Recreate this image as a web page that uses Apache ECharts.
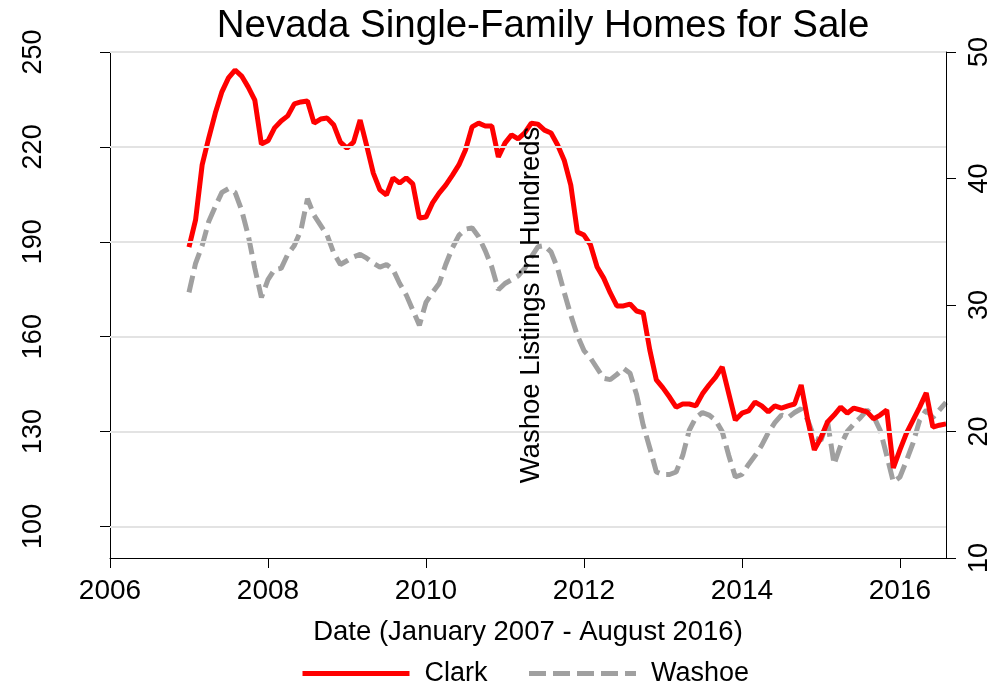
<!DOCTYPE html>
<html>
<head>
<meta charset="utf-8">
<title>Nevada Single-Family Homes for Sale</title>
<script src="https://cdn.jsdelivr.net/npm/echarts@6.0.0/dist/echarts.min.js"></script>
<style>
  html, body { margin: 0; padding: 0; background: #fff; }
  #chart { width: 1003px; height: 688px; }
</style>
</head>
<body>
<div id="chart"></div>
<script>
// monthly series, January 2007 - August 2016, one row per year
var startYear = 2007;
var clark = [
  188.3, 196.9, 214.3, 222.8, 230.7, 237.4, 241.8, 244.3, 242.4, 238.9, 234.8, 220.9,
  221.9, 226.0, 228.2, 229.8, 233.6, 234.2, 234.5, 227.5, 228.8, 229.1, 226.9, 221.5,
  219.6, 221.5, 228.5, 220.3, 211.7, 206.4, 204.8, 210.2, 208.6, 210.2, 208.3, 197.5,
  197.8, 202.3, 205.4, 207.9, 211.0, 214.3, 219.0, 226.3, 227.5, 226.6, 226.6, 216.8,
  221.2, 223.8, 222.5, 224.4, 227.5, 227.2, 225.3, 224.4, 220.6, 215.8, 207.9, 193.1,
  192.1, 189.0, 182.0, 178.5, 173.8, 169.7, 169.7, 170.3, 168.1, 167.5, 155.8, 146.3,
  143.8, 140.9, 137.7, 138.7, 138.7, 138.1, 141.9, 144.7, 147.2, 150.4, 142.0, 133.6,
  135.8, 136.5, 139.3, 138.1, 136.2, 138.1, 137.4, 138.1, 138.7, 144.7, 133.6, 124.2,
  128.0, 133.0, 135.2, 137.7, 135.8, 137.4, 136.8, 136.2, 134.0, 135.2, 136.8, 118.5,
  124.2, 129.5, 133.6, 137.7, 142.2, 131.4, 132.0, 132.4
];
// Washoe, listings in hundreds (right axis)
var washoe = [
  31.0, 33.3, 34.7, 36.6, 37.8, 38.9, 39.2, 38.9, 37.5, 35.5, 32.9, 30.6,
  32.0, 32.8, 32.9, 34.0, 34.7, 35.9, 38.4, 37.1, 36.3, 35.5, 34.1, 33.2,
  33.5, 33.8, 34.0, 33.7, 33.3, 33.0, 33.2, 32.8, 31.7, 30.8, 29.6, 28.4,
  30.2, 31.0, 31.7, 33.2, 34.5, 35.5, 36.0, 36.1, 35.4, 34.3, 33.0, 31.2,
  31.7, 32.0, 32.3, 32.9, 33.8, 34.6, 34.7, 34.2, 32.9, 31.0, 29.2, 27.6,
  26.4, 25.8, 25.0, 24.2, 24.1, 24.5, 25.0, 24.6, 22.9, 20.5, 18.7, 16.8,
  16.6, 16.6, 16.8, 18.1, 20.1, 21.1, 21.5, 21.3, 20.9, 20.0, 18.1, 16.4,
  16.6, 17.4, 18.1, 18.9, 19.9, 20.7, 21.3, 21.1, 21.5, 21.8, 20.9, 19.5,
  19.3, 20.8, 17.4, 18.9, 20.0, 20.6, 21.1, 21.7, 21.2, 20.1, 18.1, 16.0,
  16.4, 17.7, 19.1, 20.9, 21.7, 21.1, 21.7, 22.3
];
var xTicks = [2006, 2008, 2010, 2012, 2014, 2016];
var leftTicks = [100, 130, 160, 190, 220, 250];

var FONT = 'Liberation Sans, Arial, Helvetica, sans-serif';

function toPairs(values) {
  return values.map(function (v, i) { return [startYear + i / 12, v]; });
}

var chart = echarts.init(document.getElementById('chart'), null, { renderer: 'canvas' });

var option = {
  animation: false,
  backgroundColor: '#ffffff',
  textStyle: { fontFamily: FONT, color: '#000' },
  title: {
    text: 'Nevada Single-Family Homes for Sale',
    left: 538,
    textAlign: 'center',
    top: 2,
    textStyle: { fontFamily: FONT, fontSize: 38.5, fontWeight: 'normal', color: '#000' }
  },
  legend: {
    data: ['Clark', 'Washoe'],
    left: 295,
    top: 655,
    itemWidth: 107,
    itemHeight: 14,
    itemGap: 39,
    lineStyle: { width: 5 },
    // hide the default circle marker, keep only the line
    itemStyle: { opacity: 0, borderWidth: 0 },
    textStyle: { fontFamily: FONT, fontSize: 27, color: '#000', padding: [0, 0, 0, 10] }
  },
  grid: { left: 110, right: 57, top: 52, bottom: 130 },
  xAxis: {
    type: 'value',
    min: 2006,
    max: 2016 + 7 / 12,
    interval: 2,
    name: 'Date (January 2007 - August 2016)',
    nameLocation: 'middle',
    nameGap: 60,
    nameTextStyle: { fontFamily: FONT, fontSize: 27.5, color: '#000' },
    axisLine: { show: true, onZero: false, lineStyle: { color: '#000', width: 1 } },
    axisTick: { show: true, length: 10, customValues: xTicks, lineStyle: { color: '#000' } },
    axisLabel: {
      customValues: xTicks,
      formatter: function (v) { return String(v); },
      fontFamily: FONT, fontSize: 28, color: '#000', margin: 19
    },
    splitLine: { show: false }
  },
  yAxis: [
    {
      type: 'value',
      min: 90,
      max: 250,
      position: 'left',
      axisLine: { show: true, lineStyle: { color: '#000', width: 1 } },
      axisTick: { show: true, length: 10, customValues: leftTicks, lineStyle: { color: '#000' } },
      axisLabel: { customValues: leftTicks, rotate: 90, fontFamily: FONT, fontSize: 27, color: '#000', margin: 63 },
      splitLine: { show: false }
    },
    {
      type: 'value',
      min: 10,
      max: 50,
      interval: 10,
      position: 'right',
      z: 10,
      name: 'Washoe Listings in Hundreds',
      nameLocation: 'middle',
      nameRotate: 90,
      nameGap: -429,
      nameTextStyle: { fontFamily: FONT, fontSize: 27.5, color: '#000' },
      axisLine: { show: true, lineStyle: { color: '#000', width: 1 } },
      axisTick: { show: true, length: 10, lineStyle: { color: '#000' } },
      axisLabel: { rotate: 90, fontFamily: FONT, fontSize: 27, color: '#000', margin: 20 },
      splitLine: { show: false }
    }
  ],
  series: [
    {
      // horizontal grid lines at the left-axis ticks
      name: 'grid',
      type: 'line',
      data: [],
      z: 1,
      silent: true,
      markLine: {
        silent: true,
        symbol: 'none',
        label: { show: false },
        lineStyle: { color: '#e3e3e3', width: 2, type: 'solid' },
        data: leftTicks.map(function (v) { return { yAxis: v }; })
      }
    },
    {
      name: 'Clark',
      type: 'line',
      yAxisIndex: 0,
      data: toPairs(clark),
      symbol: 'none',
      z: 3,
      lineStyle: { color: '#ff0000', width: 5 },
      itemStyle: { color: '#ff0000' }
    },
    {
      name: 'Washoe',
      type: 'line',
      yAxisIndex: 1,
      data: toPairs(washoe),
      symbol: 'none',
      z: 2,
      lineStyle: { color: '#a0a0a0', width: 5, type: [17, 7] },
      itemStyle: { color: '#a0a0a0' }
    }
  ]
};

chart.setOption(option);
</script>
</body>
</html>
